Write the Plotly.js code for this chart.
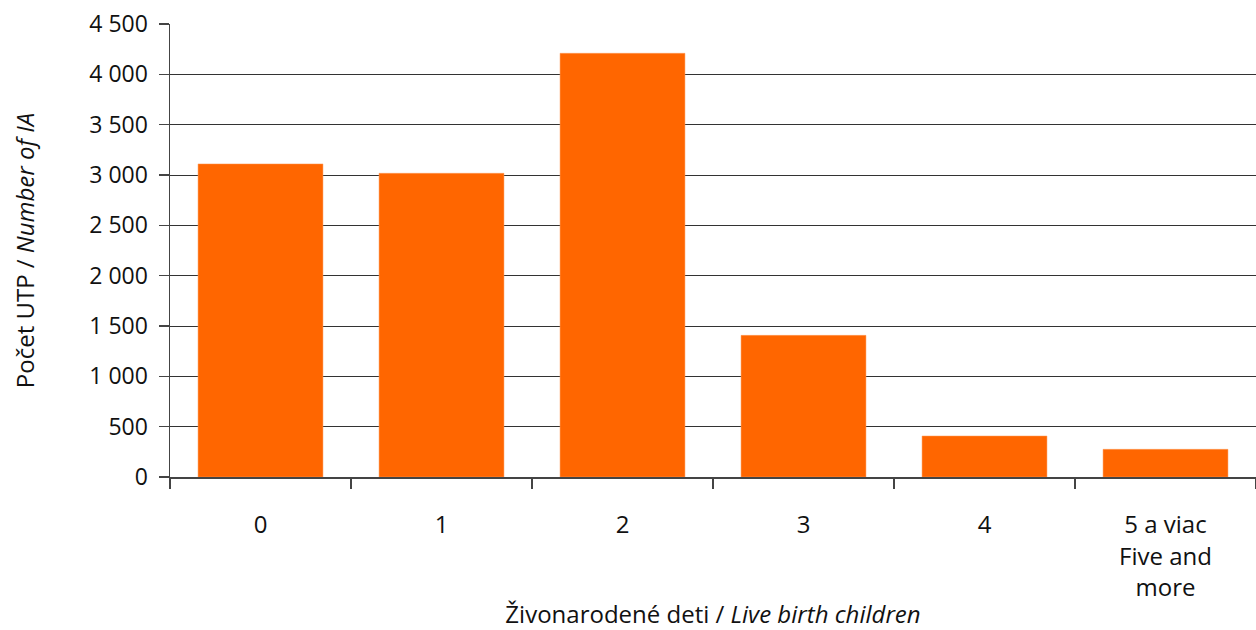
<!DOCTYPE html>
<html><head><meta charset="utf-8">
<script src="https://cdn.plot.ly/plotly-3.0.1.min.js"></script>
<style>html,body{margin:0;padding:0;background:#fff}</style>
</head><body><div id="chart" style="width:1256px;height:630px"></div>
<script>
const categories = ["0", "1", "2", "3", "4", "5 a viac<br>Five and<br>more"];
const values = [3110, 3017, 4209, 1407, 407, 275];
const yTicks = [0, 500, 1000, 1500, 2000, 2500, 3000, 3500, 4000, 4500];

const font = "Open Sans, Noto Sans, sans-serif";
Plotly.newPlot("chart", [{
  type: "bar",
  x: categories,
  y: values,
  marker: {color: "#FF6600", line: {color: "#FF9955", width: 0.5}},
  hoverinfo: "x+y"
}], {
  width: 1256, height: 630,
  margin: {l: 170, r: 0, t: 24, b: 153},
  paper_bgcolor: "#fff", plot_bgcolor: "#fff",
  bargap: 0.31,
  separators: ", ",
  showlegend: false,
  font: {family: font, color: "#111", size: 22},
  xaxis: {
    type: "category",
    showline: true, linecolor: "#444", linewidth: 1.5,
    ticks: "outside", tickson: "boundaries", ticklen: 10, tickcolor: "#444", tickwidth: 1.5,
    tickfont: {size: 24, family: font, color: "#111"},
    ticklabelstandoff: 26,
    showgrid: false,
    title: {text: "Živonarodené deti / <i>Live birth children</i>", font: {size: 24, family: font, color: "#111"}, standoff: 4},
    fixedrange: true
  },
  yaxis: {
    range: [0, 4500],
    tickvals: yTicks,
    separatethousands: true,
    tickformat: ",d",
    showline: true, linecolor: "#444", linewidth: 1.5,
    ticks: "outside", ticklen: 10, tickcolor: "#444", tickwidth: 1.5,
    tickfont: {size: 23, family: font, color: "#111"},
    ticklabelstandoff: 6,
    showgrid: true, gridcolor: "#333", gridwidth: 1,
    zeroline: false,
    title: {text: "Počet UTP / <i>Number of IA</i>", font: {size: 24, family: font, color: "#111"}, standoff: 48},
    fixedrange: true
  }
}, {displayModeBar: false, staticPlot: true});
</script></body></html>
